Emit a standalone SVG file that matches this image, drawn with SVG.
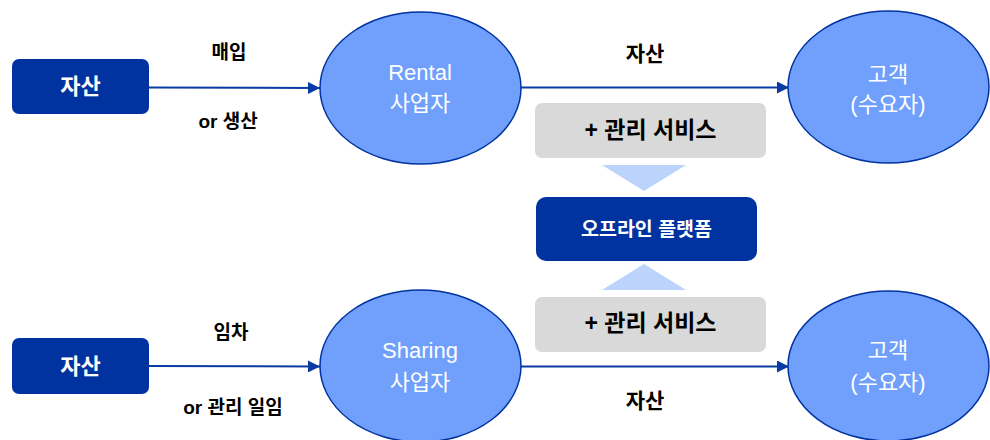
<svg xmlns="http://www.w3.org/2000/svg" width="990" height="440" viewBox="0 0 990 440">
<style>
.dark{fill:#0033a0;}
.ell{fill:#709ffc;stroke:#0033a0;stroke-width:1.5;}
.gray{fill:#d9d9d9;}
.tri{fill:#bcd4fc;}
.conn{stroke:#0a3aa3;stroke-width:2;fill:none;}
text{font-family:"Liberation Sans","Noto Sans CJK KR",sans-serif;text-anchor:middle;dominant-baseline:central;}
.wb{fill:#fff;font-weight:bold;font-size:22px;}
.wr{fill:#fff;font-size:22px;}
.kb{fill:#000;font-weight:bold;font-size:19px;}
.kb2{fill:#000;font-weight:bold;font-size:21px;}
.sv{fill:#000;font-weight:bold;font-size:23px;}
</style>
<defs>
<marker id="ah" viewBox="0 0 12 12" refX="12" refY="6" markerWidth="12" markerHeight="12" markerUnits="userSpaceOnUse" orient="auto">
<path d="M0,0 L12,6 L0,12 Z" fill="#0a3aa3"/>
</marker>
</defs>
<g id="connectors">
<line class="conn" x1="149" y1="87.5" x2="320" y2="88" marker-end="url(#ah)"/>
<line class="conn" x1="521" y1="87.5" x2="789" y2="87.5" marker-end="url(#ah)"/>
<line class="conn" x1="149" y1="366" x2="320" y2="366.5" marker-end="url(#ah)"/>
<line class="conn" x1="521" y1="366.5" x2="789" y2="366.5" marker-end="url(#ah)"/>
<text class="kb" x="229" y="52">매입</text>
<text class="kb" x="228" y="121">or 생산</text>
<text class="kb2" x="645" y="53">자산</text>
<text class="kb" x="231" y="332">임차</text>
<text class="kb" x="233" y="407">or 관리 일임</text>
<text class="kb2" x="645" y="400">자산</text>
</g>
<g id="asset1"><rect class="dark" x="12" y="59" width="137" height="55" rx="7"/><text class="wb" x="80.5" y="86.5">자산</text></g>
<g id="asset2"><rect class="dark" x="12" y="338" width="137" height="56" rx="7"/><text class="wb" x="80.5" y="366">자산</text></g>
<g id="rental"><ellipse class="ell" cx="420.5" cy="88" rx="100.5" ry="76"/><text class="wr" x="420" y="72">Rental</text><text class="wr" x="420" y="103">사업자</text></g>
<g id="sharing"><ellipse class="ell" cx="420.5" cy="366" rx="100.5" ry="76"/><text class="wr" x="420" y="350">Sharing</text><text class="wr" x="420" y="382">사업자</text></g>
<g id="customer1"><ellipse class="ell" cx="888.5" cy="87" rx="100.5" ry="76"/><text class="wr" x="888" y="74">고객</text><text class="wr" x="888" y="104">(수요자)</text></g>
<g id="customer2"><ellipse class="ell" cx="888.5" cy="366" rx="100.5" ry="75"/><text class="wr" x="888" y="350">고객</text><text class="wr" x="888" y="382">(수요자)</text></g>
<g id="service1"><rect class="gray" x="535" y="103" width="231" height="55" rx="7"/><text class="sv" x="650.5" y="130">+ 관리 서비스</text></g>
<g id="service2"><rect class="gray" x="535" y="297" width="231" height="55" rx="7"/><text class="sv" x="650.5" y="323">+ 관리 서비스</text></g>
<g id="tri-down"><polygon class="tri" points="602,165 686,165 644,191"/></g>
<g id="platform"><rect class="dark" x="536" y="197" width="221" height="64" rx="10"/><text class="wb" x="646.5" y="229" style="font-size:19.5px">오프라인 플랫폼</text></g>
<g id="tri-up"><polygon class="tri" points="644,264 686,290 602,290"/></g>
</svg>
